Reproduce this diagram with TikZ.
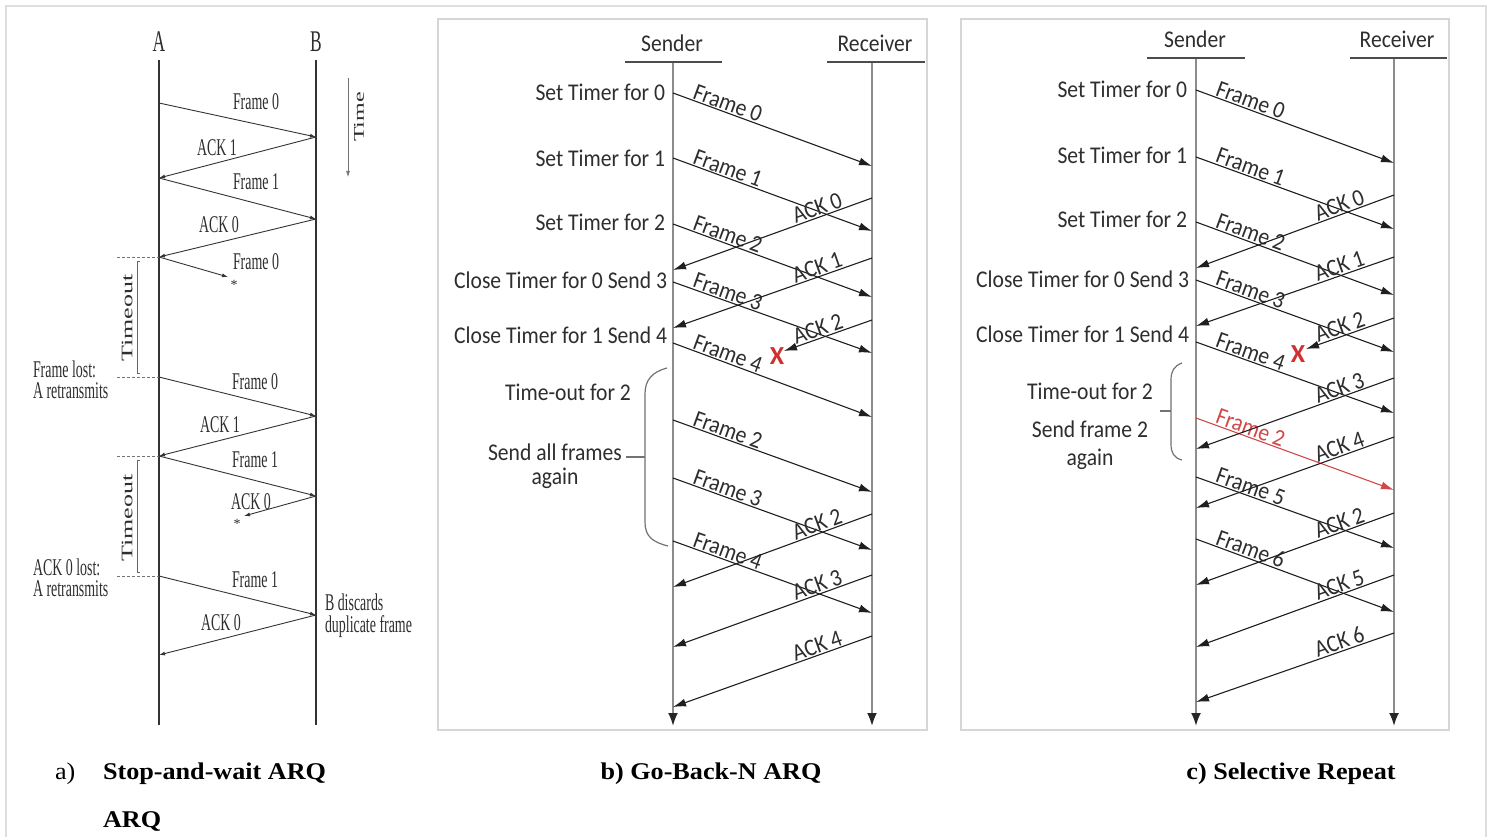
\documentclass[tikz,border=0pt]{standalone}
\usepackage{fontspec}
\setmainfont{Liberation Serif}
\newfontfamily\calf{Carlito}
\newfontfamily\tmsr{Liberation Serif}
\usetikzlibrary{arrows.meta}
\definecolor{lostred}{HTML}{D03030}
\definecolor{redmsg}{HTML}{D04848}
\newcommand\sqb[1]{\scalebox{0.9}[1]{#1}}
\newcommand\sqa[1]{\scalebox{0.58}[1]{#1}}
\newcommand\sqc[1]{\scalebox{1.09}[1]{#1}}
\tikzset{
  every node/.style={inner sep=0pt,outer sep=0pt},
  outerframe/.style={draw=black!13,line width=2pt},
  panelbox/.style={draw=black!16,line width=1.6pt},
  lifea/.style={draw=black!80,line width=1.3pt},
  msga/.style={draw=black!80,line width=0.9pt,-{Latex[length=6pt,width=4pt]}},
  dasha/.style={draw=black!55,line width=0.8pt,dash pattern=on 3pt off 2pt},
  brka/.style={draw=black!60,line width=0.7pt},
  ta/.style={font=\tmsr\fontsize{24}{20}\selectfont,text=black!82},
  tarot/.style={font=\tmsr\fontsize{26}{26}\selectfont,text=black!82,rotate=90},
  lifeb/.style={draw=black!45,line width=2pt,-{Latex[length=13pt,width=10pt,color=black!85]}},
  hdr/.style={draw=black!70,line width=1.6pt},
  msg/.style={draw=black!88,line width=1.1pt,-{Latex[length=13pt,width=8pt]}},
  redm/.style={draw=redmsg,line width=1.1pt,-{Latex[length=13pt,width=8pt]}},
  tb/.style={font=\calf\fontsize{24}{24}\selectfont,text=black!82},
  lbl/.style={font=\calf\fontsize{24}{24}\selectfont,text=black!82,sloped,above=1.5pt,pos=0.26},
  xmark/.style={font=\calf\bfseries\fontsize{26}{26}\selectfont,text=lostred},
  bracel/.style={draw=black!55,line width=1.2pt},
  capt/.style={font=\tmsr\bfseries\fontsize{24}{24}\selectfont,text=black},
}
\begin{document}
\begin{tikzpicture}[x=1pt,y=-1pt]
\useasboundingbox (0,0) rectangle (1491,837);
\fill[white] (0,0) rectangle (1491,837);
\draw[outerframe] (6,850) -- (6,6) -- (1486,6) -- (1486,850);

% ================= Panel a =================
\node[ta,font=\tmsr\fontsize{30}{30}\selectfont] (labA) at (159,42) {\sqa{A}};
\node[ta,font=\tmsr\fontsize{30}{30}\selectfont] (labB) at (316,42) {\sqa{B}};
\coordinate (aT) at (159,60); \coordinate (aB) at (159,725);
\coordinate (bT) at (316,60); \coordinate (bB) at (316,725);
\draw[lifea] (aT) -- (aB);
\draw[lifea] (bT) -- (bB);

\coordinate (t1) at (348,78); \coordinate (t2) at (348,177);
\draw[draw=black!55,line width=0.7pt,-{Latex[length=6pt,width=4pt]}] (t1) -- (t2);
\node[tarot,font=\tmsr\fontsize{24}{24}\selectfont] (tm) at (359,117) {\scalebox{1}[0.62]{Time}};

\path (159,103) coordinate (a1) (316,137) coordinate (b1)
      (159,178) coordinate (a2) (316,219) coordinate (b2)
      (159,257) coordinate (a3) (228,277) coordinate (x1)
      (159,377) coordinate (a4) (316,416) coordinate (b4)
      (159,456) coordinate (a5) (316,496) coordinate (b5)
      (244,516) coordinate (x2)
      (159,576) coordinate (a6) (316,615) coordinate (b6)
      (159,655) coordinate (a7);
\draw[msga] (a1) -- (b1);
\draw[msga] (b1) -- (a2);
\draw[msga] (a2) -- (b2);
\draw[msga] (b2) -- (a3);
\draw[msga] (a3) -- (x1);
\draw[msga] (a4) -- (b4);
\draw[msga] (b4) -- (a5);
\draw[msga] (a5) -- (b5);
\draw[msga] (b5) -- (x2);
\draw[msga] (a6) -- (b6);
\draw[msga] (b6) -- (a7);

\node[ta] (fa1) at (256,102) {\sqa{Frame 0}};
\node[ta] (ka1) at (217,148) {\sqa{ACK 1}};
\node[ta] (fa2) at (256,182) {\sqa{Frame 1}};
\node[ta] (ka2) at (219,225) {\sqa{ACK 0}};
\node[ta] (fa3) at (256,262) {\sqa{Frame 0}};
\node[ta,font=\tmsr\fontsize{14}{14}\selectfont] (st1) at (234,285) {*};
\node[ta] (fa4) at (255,382) {\sqa{Frame 0}};
\node[ta] (ka4) at (220,425) {\sqa{ACK 1}};
\node[ta] (fa5) at (255,460) {\sqa{Frame 1}};
\node[ta] (ka5) at (251,502) {\sqa{ACK 0}};
\node[ta,font=\tmsr\fontsize{14}{14}\selectfont] (st2) at (237,524) {*};
\node[ta] (fa6) at (255,580) {\sqa{Frame 1}};
\node[ta] (ka6) at (221,623) {\sqa{ACK 0}};

\path (117,257) coordinate (d1) (117,377) coordinate (d2)
      (117,456) coordinate (d3) (117,576) coordinate (d4);
\draw[dasha] (d1) -- (a3);
\draw[dasha] (d2) -- (a4);
\draw[dasha] (d3) -- (a5);
\draw[dasha] (d4) -- (a6);
\draw[brka] (140,261) -- (137,261) -- (137,373) -- (140,373);
\draw[brka] (140,460) -- (137,460) -- (137,572) -- (140,572);
\node[tarot] (to1) at (127,318) {\scalebox{1}[0.62]{Timeout}};
\node[tarot] (to2) at (127,518) {\scalebox{1}[0.62]{Timeout}};

\node[ta,anchor=west,align=left,font=\tmsr\fontsize{24}{21}\selectfont] (lost1) at (33,380) {\sqa{Frame lost:}\\\sqa{A retransmits}};
\node[ta,anchor=west,align=left,font=\tmsr\fontsize{24}{21}\selectfont] (lost2) at (33,578) {\sqa{ACK 0 lost:}\\\sqa{A retransmits}};
\node[ta,anchor=west,align=left,font=\tmsr\fontsize{24}{22}\selectfont] (disc) at (325,616) {\sqa{B discards}\\\sqa{duplicate frame}};

% ================= Panel b =================
\draw[panelbox] (438,19) rectangle (927,730);
\node[tb,anchor=base] (bsnd) at (672,52) {\sqb{Sender}};
\node[tb,anchor=base] (brcv) at (875,52) {\sqb{Receiver}};
\draw[hdr] (625,62) -- (722,62);
\draw[hdr] (827,62) -- (925,62);
\coordinate (bS) at (673,63); \coordinate (bSe) at (673,726);
\coordinate (bR) at (872,63); \coordinate (bRe) at (872,726);
\draw[lifeb] (bS) -- (bSe);
\draw[lifeb] (bR) -- (bRe);

\node[tb,anchor=base east] (bl0) at (665,101) {\sqb{Set Timer for 0}};
\node[tb,anchor=base east] (bl1) at (665,167) {\sqb{Set Timer for 1}};
\node[tb,anchor=base east] (bl2) at (665,231) {\sqb{Set Timer for 2}};
\node[tb,anchor=base east] (bl3) at (667,288) {\sqb{Close Timer for 0 Send 3}};
\node[tb,anchor=base east] (bl4) at (667,343) {\sqb{Close Timer for 1 Send 4}};

\path (673,93) coordinate (bf0s) (872,166) coordinate (bf0e)
      (673,158) coordinate (bf1s) (872,231) coordinate (bf1e)
      (673,224) coordinate (bf2s) (872,297) coordinate (bf2e)
      (673,282) coordinate (bf3s) (872,353) coordinate (bf3e)
      (673,343) coordinate (bf4s) (872,417) coordinate (bf4e)
      (673,420) coordinate (bg2s) (872,492) coordinate (bg2e)
      (673,478) coordinate (bg3s) (872,550) coordinate (bg3e)
      (673,541) coordinate (bg4s) (872,613) coordinate (bg4e)
      (872,198) coordinate (ba0s) (673,270) coordinate (ba0e)
      (872,258) coordinate (ba1s) (673,328) coordinate (ba1e)
      (872,320) coordinate (ba2s) (784,351) coordinate (ba2e)
      (872,514) coordinate (bb2s) (673,587) coordinate (bb2e)
      (872,575) coordinate (bb3s) (673,647) coordinate (bb3e)
      (872,636) coordinate (bb4s) (673,707) coordinate (bb4e);
\draw[msg] (bf0s) -- node[lbl] {\sqb{Frame 0}} (bf0e);
\draw[msg] (bf1s) -- node[lbl] {\sqb{Frame 1}} (bf1e);
\draw[msg] (bf2s) -- node[lbl] {\sqb{Frame 2}} (bf2e);
\draw[msg] (bf3s) -- node[lbl] {\sqb{Frame 3}} (bf3e);
\draw[msg] (bf4s) -- node[lbl] {\sqb{Frame 4}} (bf4e);
\draw[msg] (bg2s) -- node[lbl] {\sqb{Frame 2}} (bg2e);
\draw[msg] (bg3s) -- node[lbl] {\sqb{Frame 3}} (bg3e);
\draw[msg] (bg4s) -- node[lbl] {\sqb{Frame 4}} (bg4e);
\draw[msg] (ba0s) -- node[lbl] {\sqb{ACK 0}} (ba0e);
\draw[msg] (ba1s) -- node[lbl] {\sqb{ACK 1}} (ba1e);
\draw[msg] (ba2s) -- node[lbl,pos=0.58] {\sqb{ACK 2}} (ba2e);
\draw[msg] (bb2s) -- node[lbl] {\sqb{ACK 2}} (bb2e);
\draw[msg] (bb3s) -- node[lbl] {\sqb{ACK 3}} (bb3e);
\draw[msg] (bb4s) -- node[lbl] {\sqb{ACK 4}} (bb4e);
\node[xmark] (bx) at (777,356) {X};

\draw[bracel] (667,368) .. controls (652,372) and (645,380) .. (645,394) -- (645,522) .. controls (645,536) and (652,542) .. (668,546);
\coordinate (bbr) at (645,457); \coordinate (bbt) at (626,457);
\draw[bracel] (bbt) -- (bbr);
\node[tb,anchor=base] (bto) at (568,400) {\sqb{Time-out for 2}};
\node[tb,anchor=base] (bsa) at (555,460) {\sqb{Send all frames}};
\node[tb,anchor=base] (bag) at (555,484) {\sqb{again}};

% ================= Panel c =================
\draw[panelbox] (961,19) rectangle (1449,730);
\node[tb,anchor=base] (csnd) at (1195,48) {\sqb{Sender}};
\node[tb,anchor=base] (crcv) at (1397,48) {\sqb{Receiver}};
\draw[hdr] (1147,58) -- (1245,58);
\draw[hdr] (1350,58) -- (1447,58);
\coordinate (cS) at (1196,59); \coordinate (cSe) at (1196,726);
\coordinate (cR) at (1394,59); \coordinate (cRe) at (1394,726);
\draw[lifeb] (cS) -- (cSe);
\draw[lifeb] (cR) -- (cRe);

\node[tb,anchor=base east] (cl0) at (1187,98) {\sqb{Set Timer for 0}};
\node[tb,anchor=base east] (cl1) at (1187,164) {\sqb{Set Timer for 1}};
\node[tb,anchor=base east] (cl2) at (1187,228) {\sqb{Set Timer for 2}};
\node[tb,anchor=base east] (cl3) at (1189,287) {\sqb{Close Timer for 0 Send 3}};
\node[tb,anchor=base east] (cl4) at (1189,342) {\sqb{Close Timer for 1 Send 4}};

\path (1196,90) coordinate (cf0s) (1394,163) coordinate (cf0e)
      (1196,157) coordinate (cf1s) (1394,229) coordinate (cf1e)
      (1196,222) coordinate (cf2s) (1394,295) coordinate (cf2e)
      (1196,280) coordinate (cf3s) (1394,352) coordinate (cf3e)
      (1196,342) coordinate (cf4s) (1394,413) coordinate (cf4e)
      (1196,418) coordinate (cg2s) (1394,490) coordinate (cg2e)
      (1196,477) coordinate (cf5s) (1394,548) coordinate (cf5e)
      (1196,539) coordinate (cf6s) (1394,612) coordinate (cf6e)
      (1394,195) coordinate (ca0s) (1196,268) coordinate (ca0e)
      (1394,257) coordinate (ca1s) (1196,326) coordinate (ca1e)
      (1394,318) coordinate (ca2s) (1306,349) coordinate (ca2e)
      (1394,378) coordinate (ca3s) (1196,449) coordinate (ca3e)
      (1394,437) coordinate (ca4s) (1196,508) coordinate (ca4e)
      (1394,513) coordinate (cb2s) (1196,585) coordinate (cb2e)
      (1394,575) coordinate (ca5s) (1196,647) coordinate (ca5e)
      (1394,633) coordinate (ca6s) (1196,702) coordinate (ca6e);
\draw[msg] (cf0s) -- node[lbl] {\sqb{Frame 0}} (cf0e);
\draw[msg] (cf1s) -- node[lbl] {\sqb{Frame 1}} (cf1e);
\draw[msg] (cf2s) -- node[lbl] {\sqb{Frame 2}} (cf2e);
\draw[msg] (cf3s) -- node[lbl] {\sqb{Frame 3}} (cf3e);
\draw[msg] (cf4s) -- node[lbl] {\sqb{Frame 4}} (cf4e);
\draw[redm] (cg2s) -- node[lbl,text=redmsg] {\sqb{Frame 2}} (cg2e);
\draw[msg] (cf5s) -- node[lbl] {\sqb{Frame 5}} (cf5e);
\draw[msg] (cf6s) -- node[lbl] {\sqb{Frame 6}} (cf6e);
\draw[msg] (ca0s) -- node[lbl] {\sqb{ACK 0}} (ca0e);
\draw[msg] (ca1s) -- node[lbl] {\sqb{ACK 1}} (ca1e);
\draw[msg] (ca2s) -- node[lbl,pos=0.58] {\sqb{ACK 2}} (ca2e);
\draw[msg] (ca3s) -- node[lbl] {\sqb{ACK 3}} (ca3e);
\draw[msg] (ca4s) -- node[lbl] {\sqb{ACK 4}} (ca4e);
\draw[msg] (cb2s) -- node[lbl] {\sqb{ACK 2}} (cb2e);
\draw[msg] (ca5s) -- node[lbl] {\sqb{ACK 5}} (ca5e);
\draw[msg] (ca6s) -- node[lbl] {\sqb{ACK 6}} (ca6e);
\node[xmark] (cx) at (1298,354) {X};

\draw[bracel] (1182,363) .. controls (1174,366) and (1171,371) .. (1171,380) -- (1171,444) .. controls (1171,453) and (1174,458) .. (1182,460);
\coordinate (cbr) at (1171,411); \coordinate (cbt) at (1160,411);
\draw[bracel] (cbt) -- (cbr);
\node[tb,anchor=base] (cto) at (1090,399) {\sqb{Time-out for 2}};
\node[tb,anchor=base] (csf) at (1090,437) {\sqb{Send frame 2}};
\node[tb,anchor=base] (cag) at (1090,465) {\sqb{again}};

% ================= Captions =================
\node[capt,anchor=base west,font=\tmsr\fontsize{24}{24}\selectfont] (capa) at (55,779) {\sqc{a)}};
\node[capt,anchor=base west] (capa1) at (103,779) {\sqc{Stop-and-wait ARQ}};
\node[capt,anchor=base west] (capa2) at (103,827) {\sqc{ARQ}};
\node[capt,anchor=base] (capb) at (711,779) {\sqc{b) Go-Back-N ARQ}};
\node[capt,anchor=base] (capc) at (1291,779) {\sqc{c) Selective Repeat}};
\end{tikzpicture}
\end{document}
